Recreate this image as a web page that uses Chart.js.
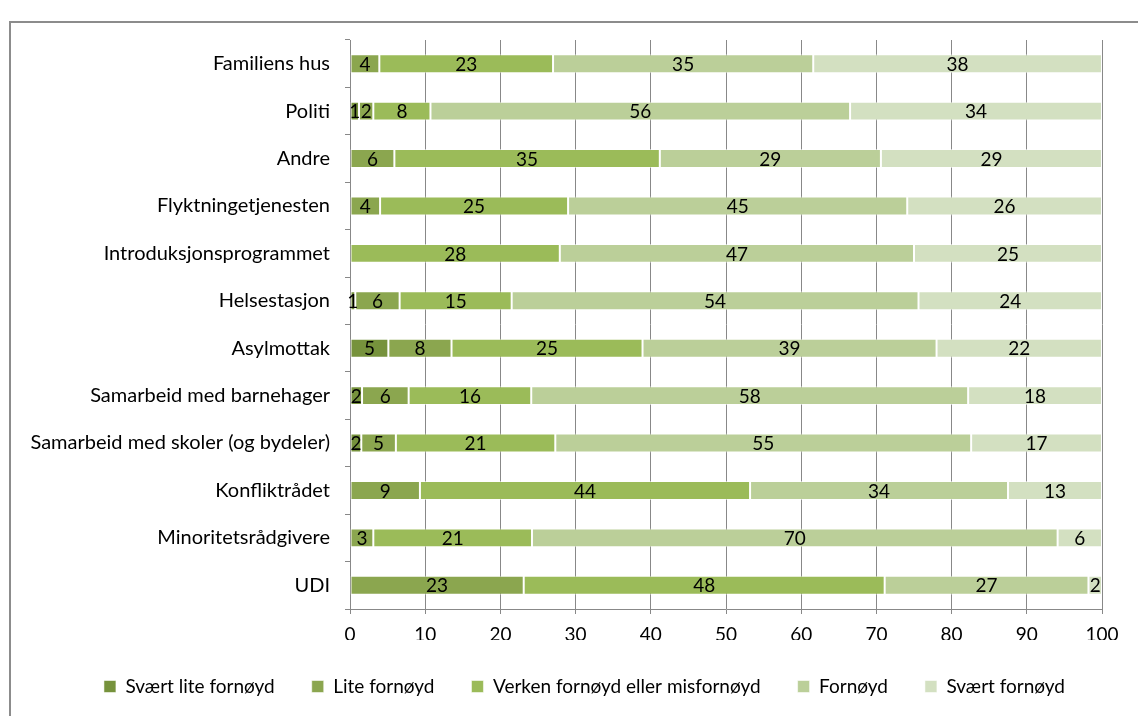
<!DOCTYPE html>
<html>
<head>
<meta charset="utf-8">
<script src="https://cdn.jsdelivr.net/npm/chart.js@4.4.0/dist/chart.umd.min.js"></script>
<style>
  html, body { margin: 0; padding: 0; background: #fff; overflow: hidden; }
  .frame {
    position: absolute; left: 9px; top: 21px; width: 1140px; height: 710px;
    border-left: 2px solid #8c8c8c; border-top: 2px solid #8c8c8c;
  }
  .wrap { position: absolute; left: 0; top: 0; width: 1138px; height: 716px; }
</style>
</head>
<body>
<div class="frame"></div>
<div class="wrap"><canvas id="chart"></canvas></div>
<script>
const categories = [
    'Familiens hus',
    'Politi',
    'Andre',
    'Flyktningetjenesten',
    'Introduksjonsprogrammet',
    'Helsestasjon',
    'Asylmottak',
    'Samarbeid med barnehager',
    'Samarbeid med skoler (og bydeler)',
    'Konfliktrådet',
    'Minoritetsrådgivere',
    'UDI'
];

// percent per answer (labels show the rounded value)
const svaertLite = [0, 1.2, 0, 0, 0, 0.7, 5.1, 1.6, 1.5, 0, 0, 0];
const lite       = [3.9, 1.9, 5.9, 4.0, 0, 5.9, 8.4, 6.2, 4.6, 9.3, 3.1, 23.1];
const verken     = [23.1, 7.6, 35.3, 25.0, 27.9, 14.9, 25.4, 16.3, 21.2, 43.9, 21.1, 48.0];
const fornoyd    = [34.6, 55.8, 29.4, 45.1, 47.1, 54.1, 39.1, 58.1, 55.3, 34.3, 69.9, 27.1];
const svaertFor  = [38.4, 33.5, 29.4, 25.9, 25.0, 24.4, 22.0, 17.8, 17.4, 12.5, 5.9, 1.8];

const seriesNames = ['Svært lite fornøyd', 'Lite fornøyd', 'Verken fornøyd eller misfornøyd', 'Fornøyd', 'Svært fornøyd'];
const seriesColors = ['#76923c', '#8ba64f', '#9bbb59', '#bbcf99', '#d3e0c1'];

const FONT = 'Lato, "Noto Sans", sans-serif';

// draws the number in the middle of each segment, like excel data labels
const segmentLabels = {
    id: 'segmentLabels',
    afterDatasetsDraw(chart) {
        const ctx = chart.ctx;
        ctx.save();
        ctx.font = '19px ' + FONT;
        ctx.fillStyle = '#000';
        ctx.textAlign = 'center';
        ctx.textBaseline = 'middle';
        chart.data.datasets.forEach((ds, i) => {
            const meta = chart.getDatasetMeta(i);
            meta.data.forEach((bar, j) => {
                const v = ds.data[j];
                if (!v) return;
                const cx = (bar.x + bar.base) / 2;
                ctx.fillText(Math.round(v), cx, bar.y + 1);
            });
        });
        ctx.restore();
    }
};

const allSeries = [svaertLite, lite, verken, fornoyd, svaertFor];

new Chart(document.getElementById('chart'), {
    type: 'bar',
    data: {
        labels: categories,
        datasets: allSeries.map((vals, i) => ({
            label: seriesNames[i],
            data: vals,
            backgroundColor: seriesColors[i],
            borderColor: 'rgba(255,255,255,0.55)',
            borderWidth: 1,
            borderSkipped: false,
            barPercentage: 0.4,
            categoryPercentage: 1
        }))
    },
    options: {
        indexAxis: 'y',
        responsive: true,
        maintainAspectRatio: false,
        animation: false,
        layout: { padding: { left: 0, right: 36, top: 40, bottom: 10 } },
        plugins: {
            legend: {
                position: 'bottom',
                align: 'end',
                maxHeight: 80,
                labels: {
                    boxWidth: 12,
                    boxHeight: 12,
                    padding: 37,
                    color: '#000',
                    font: { family: FONT, size: 19 }
                }
            },
            tooltip: { enabled: false }
        },
        scales: {
            x: {
                stacked: true,
                min: 0,
                max: 100,
                ticks: { stepSize: 10, color: '#000', padding: 9, font: { family: FONT, size: 19 } },
                grid: { color: '#888', lineWidth: 1, tickLength: 5 },
                border: { color: '#888', width: 1 },
                afterFit: s => { s.height = 31; }
            },
            y: {
                stacked: true,
                ticks: { color: '#000', padding: 15, font: { family: FONT, size: 20 } },
                grid: { offset: true, drawOnChartArea: false, color: '#888', tickLength: 5 },
                border: { color: '#888', width: 1 },
                afterFit: s => { s.width = 350; }
            }
        }
    },
    plugins: [segmentLabels]
});
</script>
</body>
</html>
